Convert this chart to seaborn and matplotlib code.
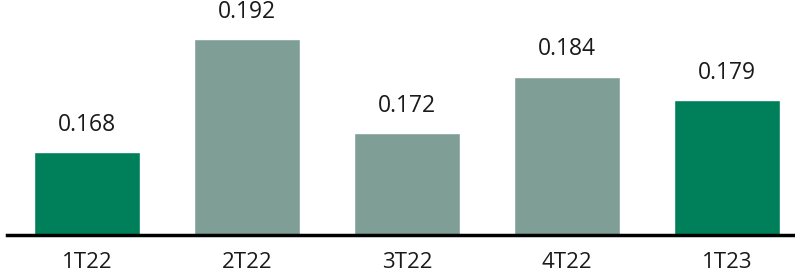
import matplotlib
matplotlib.use("Agg")
from matplotlib import pyplot as plt
import pandas as pd
import seaborn as sns

quarters = ["1T22", "2T22", "3T22", "4T22", "1T23"]
values = [0.168, 0.192, 0.172, 0.184, 0.179]
colors = ["#00805A", "#7F9E96", "#7F9E96", "#7F9E96", "#00805A"]

sns.set_style("white")
plt.rcParams['font.family'] = ['Open Sans', 'DejaVu Sans']

df = pd.DataFrame({"quarter": quarters, "value": values})

fig = plt.figure(figsize=(7.95, 2.75), dpi=100)
ax = fig.add_axes([7 / 795, 40 / 275, 800 / 795, 235 / 275])
sns.barplot(data=df, x="quarter", y="value", hue="quarter", palette=colors,
            width=0.665, legend=False, ax=ax, saturation=1)

ax.set_xlim(-0.5, 4.5)
ax.set_ylim(0.1504, 0.2003)
for i, v in enumerate(values):
    ax.annotate(f"{v:.3f}", (i, v), xytext=(0, 11), textcoords="offset points",
                ha="center", va="bottom", fontsize=16.5, color="#1a1a1a")

ax.set_xlabel("")
ax.set_ylabel("")
ax.set_yticks([])
ax.tick_params(axis="x", length=0, labelsize=16, pad=12, colors="#1a1a1a")
for s in ["top", "right", "left"]:
    ax.spines[s].set_visible(False)
ax.spines["bottom"].set_linewidth(2.5)
ax.spines["bottom"].set_color("black")

fig.savefig("out.png", dpi=100)
